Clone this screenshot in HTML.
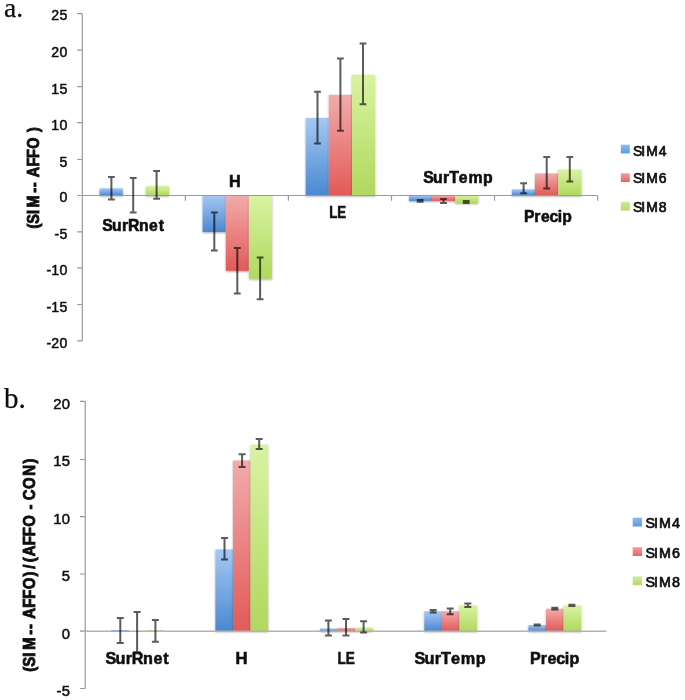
<!DOCTYPE html>
<html lang="en">
<head>
<meta charset="utf-8">
<title>Figure</title>
<style>
html,body{margin:0;padding:0;background:#fff;}
body{width:685px;height:700px;overflow:hidden;}
svg{display:block;filter:blur(0.45px);}
</style>
</head>
<body>
<svg width="685" height="700" viewBox="0 0 685 700">
<defs>
<linearGradient id="gb" x1="0" y1="0" x2="0" y2="1"><stop offset="0" stop-color="#a6c8f3"/><stop offset="1" stop-color="#4a88d2"/></linearGradient>
<linearGradient id="gr" x1="0" y1="0" x2="0" y2="1"><stop offset="0" stop-color="#f2abab"/><stop offset="1" stop-color="#e25a58"/></linearGradient>
<linearGradient id="gg" x1="0" y1="0" x2="0" y2="1"><stop offset="0" stop-color="#d9f3a2"/><stop offset="1" stop-color="#b0d85e"/></linearGradient>
<linearGradient id="lb" x1="0" y1="0" x2="0" y2="1"><stop offset="0" stop-color="#8ebaf0"/><stop offset="1" stop-color="#5e9ade"/></linearGradient>
<linearGradient id="lr" x1="0" y1="0" x2="0" y2="1"><stop offset="0" stop-color="#f29c9c"/><stop offset="1" stop-color="#e66666"/></linearGradient>
<linearGradient id="lg" x1="0" y1="0" x2="0" y2="1"><stop offset="0" stop-color="#cfec9a"/><stop offset="1" stop-color="#b2da68"/></linearGradient>
<filter id="sh" x="-30%" y="-30%" width="160%" height="160%"><feGaussianBlur in="SourceAlpha" stdDeviation="1.2"/><feOffset dx="0" dy="0.8"/><feComponentTransfer><feFuncA type="linear" slope="0.35"/></feComponentTransfer><feMerge><feMergeNode/><feMergeNode in="SourceGraphic"/></feMerge></filter>
</defs>
<rect width="685" height="700" fill="#ffffff"/>

<g id="chartA">
<rect x="99.6" y="188.3" width="23.2" height="7.2" fill="url(#gb)" filter="url(#sh)"/>
<rect x="145.9" y="185.9" width="23.2" height="9.6" fill="url(#gg)" filter="url(#sh)"/>
<rect x="202.6" y="195.5" width="23.2" height="36.5" fill="url(#gb)" filter="url(#sh)"/>
<rect x="225.8" y="195.5" width="23.1" height="75.3" fill="url(#gr)" filter="url(#sh)"/>
<rect x="248.9" y="195.5" width="23.1" height="83.2" fill="url(#gg)" filter="url(#sh)"/>
<rect x="305.7" y="117.9" width="23.1" height="77.6" fill="url(#gb)" filter="url(#sh)"/>
<rect x="328.8" y="94.8" width="23.2" height="100.7" fill="url(#gr)" filter="url(#sh)"/>
<rect x="352.0" y="74.7" width="23.1" height="120.8" fill="url(#gg)" filter="url(#sh)"/>
<rect x="409.0" y="195.5" width="23.1" height="5.4" fill="url(#gb)" filter="url(#sh)"/>
<rect x="432.1" y="195.5" width="23.1" height="5.4" fill="url(#gr)" filter="url(#sh)"/>
<rect x="455.2" y="195.5" width="23.1" height="7.5" fill="url(#gg)" filter="url(#sh)"/>
<rect x="511.9" y="189.3" width="23.1" height="6.2" fill="url(#gb)" filter="url(#sh)"/>
<rect x="535.0" y="173.4" width="23.1" height="22.1" fill="url(#gr)" filter="url(#sh)"/>
<rect x="558.2" y="169.6" width="23.1" height="25.9" fill="url(#gg)" filter="url(#sh)"/>
<path d="M82.3 13.6V340.9" stroke="#9a9a9a" stroke-width="1.2" fill="none"/>
<path d="M77.1 340.9H82.3M77.1 304.5H82.3M77.1 267.8H82.3M77.1 231.9H82.3M77.1 195.5H82.3M77.1 159.5H82.3M77.1 122.7H82.3M77.1 86.7H82.3M77.1 50.2H82.3M77.1 13.6H82.3" stroke="#9a9a9a" stroke-width="1.2" fill="none"/>
<path d="M82.3 195.5H597.6" stroke="#9a9a9a" stroke-width="1.2" fill="none"/>
<path d="M185.4 195.5v5.2M288.4 195.5v5.2M391.5 195.5v5.2M494.5 195.5v5.2M597.6 195.5v5.2" stroke="#9a9a9a" stroke-width="1.2" fill="none"/>
<path d="M111.4 176.9V199.5M108.0 176.9h6.8M108.0 199.5h6.8" stroke="#000" stroke-opacity="0.64" stroke-width="2.0" fill="none"/>
<path d="M133.2 177.9V212.6M129.8 177.9h6.8M129.8 212.6h6.8" stroke="#000" stroke-opacity="0.64" stroke-width="2.0" fill="none"/>
<path d="M156.6 171.1V198.8M153.2 171.1h6.8M153.2 198.8h6.8" stroke="#000" stroke-opacity="0.64" stroke-width="2.0" fill="none"/>
<path d="M214.3 212.5V250.4M210.9 212.5h6.8M210.9 250.4h6.8" stroke="#000" stroke-opacity="0.64" stroke-width="2.0" fill="none"/>
<path d="M237.3 247.9V293.5M233.9 247.9h6.8M233.9 293.5h6.8" stroke="#000" stroke-opacity="0.64" stroke-width="2.0" fill="none"/>
<path d="M260.1 257.4V299.3M256.7 257.4h6.8M256.7 299.3h6.8" stroke="#000" stroke-opacity="0.64" stroke-width="2.0" fill="none"/>
<path d="M317.5 91.8V143.5M314.1 91.8h6.8M314.1 143.5h6.8" stroke="#000" stroke-opacity="0.64" stroke-width="2.0" fill="none"/>
<path d="M340.4 58.6V130.7M337.0 58.6h6.8M337.0 130.7h6.8" stroke="#000" stroke-opacity="0.64" stroke-width="2.0" fill="none"/>
<path d="M363.0 43.6V104.3M359.6 43.6h6.8M359.6 104.3h6.8" stroke="#000" stroke-opacity="0.64" stroke-width="2.0" fill="none"/>
<path d="M523.6 183.2V193.2M520.2 183.2h6.8M520.2 193.2h6.8" stroke="#000" stroke-opacity="0.64" stroke-width="2.0" fill="none"/>
<path d="M546.7 157.0V188.4M543.3 157.0h6.8M543.3 188.4h6.8" stroke="#000" stroke-opacity="0.64" stroke-width="2.0" fill="none"/>
<path d="M569.8 157.0V181.6M566.4 157.0h6.8M566.4 181.6h6.8" stroke="#000" stroke-opacity="0.64" stroke-width="2.0" fill="none"/>
<path d="M420.2 200.1V201.7M416.8 200.1h6.8M416.8 201.7h6.8" stroke="#000" stroke-opacity="0.64" stroke-width="2.0" fill="none"/>
<path d="M443.5 199.0V203.0M440.1 199.0h6.8M440.1 203.0h6.8" stroke="#000" stroke-opacity="0.64" stroke-width="2.0" fill="none"/>
<path d="M466.2 200.9V203.0M462.8 200.9h6.8M462.8 203.0h6.8" stroke="#000" stroke-opacity="0.64" stroke-width="2.0" fill="none"/>
<text transform="translate(67.40 347.90) scale(1.0000 1)" x="-21.02 -16.10 -7.99" y="0" font-family='"Liberation Sans", sans-serif' font-size="14.13" font-weight="normal" fill="#0e0e0e" stroke="#0e0e0e" stroke-width="0.5">-20</text>
<text transform="translate(67.40 311.60) scale(1.0000 1)" x="-21.02 -16.10 -7.99" y="0" font-family='"Liberation Sans", sans-serif' font-size="14.13" font-weight="normal" fill="#0e0e0e" stroke="#0e0e0e" stroke-width="0.5">-15</text>
<text transform="translate(67.40 275.20) scale(1.0000 1)" x="-21.02 -16.10 -7.99" y="0" font-family='"Liberation Sans", sans-serif' font-size="14.13" font-weight="normal" fill="#0e0e0e" stroke="#0e0e0e" stroke-width="0.5">-10</text>
<text transform="translate(67.40 239.00) scale(1.0000 1)" x="-12.91 -7.99" y="0" font-family='"Liberation Sans", sans-serif' font-size="14.13" font-weight="normal" fill="#0e0e0e" stroke="#0e0e0e" stroke-width="0.5">-5</text>
<text transform="translate(67.40 201.90) scale(1.0000 1)" x="-7.99" y="0" font-family='"Liberation Sans", sans-serif' font-size="14.13" font-weight="normal" fill="#0e0e0e" stroke="#0e0e0e" stroke-width="0.5">0</text>
<text transform="translate(67.40 166.60) scale(1.0000 1)" x="-7.99" y="0" font-family='"Liberation Sans", sans-serif' font-size="14.13" font-weight="normal" fill="#0e0e0e" stroke="#0e0e0e" stroke-width="0.5">5</text>
<text transform="translate(67.40 129.50) scale(1.0000 1)" x="-16.10 -7.99" y="0" font-family='"Liberation Sans", sans-serif' font-size="14.13" font-weight="normal" fill="#0e0e0e" stroke="#0e0e0e" stroke-width="0.5">10</text>
<text transform="translate(67.40 94.20) scale(1.0000 1)" x="-16.10 -7.99" y="0" font-family='"Liberation Sans", sans-serif' font-size="14.13" font-weight="normal" fill="#0e0e0e" stroke="#0e0e0e" stroke-width="0.5">15</text>
<text transform="translate(67.40 56.90) scale(1.0000 1)" x="-16.10 -7.99" y="0" font-family='"Liberation Sans", sans-serif' font-size="14.13" font-weight="normal" fill="#0e0e0e" stroke="#0e0e0e" stroke-width="0.5">20</text>
<text transform="translate(67.40 19.70) scale(1.0000 1)" x="-16.10 -7.99" y="0" font-family='"Liberation Sans", sans-serif' font-size="14.13" font-weight="normal" fill="#0e0e0e" stroke="#0e0e0e" stroke-width="0.5">25</text>
<text transform="translate(103.20 231.20) scale(0.9650 1)" x="-0.92 9.22 19.59 25.66 37.12 47.53 57.50" y="0" font-family='"Liberation Sans", sans-serif' font-size="16.34" font-weight="bold" fill="#0e0e0e" stroke="#0e0e0e" stroke-width="0.6">SurRnet</text>
<text transform="translate(229.10 187.00) scale(0.9877 1)" x="0.00" y="0" font-family='"Liberation Sans", sans-serif' font-size="16.34" font-weight="bold" fill="#0e0e0e" stroke="#0e0e0e" stroke-width="0.6">H</text>
<text transform="translate(329.40 218.00) scale(0.8072 1)" x="-0.14 9.84" y="0" font-family='"Liberation Sans", sans-serif' font-size="16.34" font-weight="bold" fill="#0e0e0e" stroke="#0e0e0e" stroke-width="0.6">LE</text>
<text transform="translate(424.20 182.80) scale(0.9700 1)" x="-0.94 9.15 19.47 25.76 35.73 45.56 60.71" y="0" font-family='"Liberation Sans", sans-serif' font-size="16.34" font-weight="bold" fill="#0e0e0e" stroke="#0e0e0e" stroke-width="0.6">SurTemp</text>
<text transform="translate(524.20 221.50) scale(0.9596 1)" x="-0.32 10.50 17.41 26.28 34.96 39.79" y="0" font-family='"Liberation Sans", sans-serif' font-size="16.34" font-weight="bold" fill="#0e0e0e" stroke="#0e0e0e" stroke-width="0.6">Precip</text>
<text transform="translate(38.90 229.10) rotate(-90) scale(0.8800 1)" x="0.56 6.12 17.13 24.63 41.21 47.68 53.75 58.90 71.07 80.77 91.39 105.03 110.26" y="0" font-family='"Liberation Sans", sans-serif' font-size="16.42" font-weight="bold" fill="#0e0e0e" stroke="#0e0e0e" stroke-width="0.9">(SIM-- AFFO )</text>
<rect x="620.8" y="144.7" width="9" height="8.7" fill="url(#lb)"/>
<text transform="translate(634.00 155.50) scale(1.0000 1)" x="-1.03 7.31 12.18 24.87" y="0" font-family='"Liberation Sans", sans-serif' font-size="13.95" font-weight="normal" fill="#0e0e0e" stroke="#0e0e0e" stroke-width="0.7">SIM4</text>
<rect x="620.8" y="173.3" width="9" height="8.7" fill="url(#lr)"/>
<text transform="translate(634.00 183.20) scale(1.0000 1)" x="-1.03 7.31 12.18 24.87" y="0" font-family='"Liberation Sans", sans-serif' font-size="13.95" font-weight="normal" fill="#0e0e0e" stroke="#0e0e0e" stroke-width="0.7">SIM6</text>
<rect x="620.8" y="201.8" width="9" height="8.7" fill="url(#lg)"/>
<text transform="translate(634.00 211.80) scale(1.0000 1)" x="-1.03 7.31 12.18 24.87" y="0" font-family='"Liberation Sans", sans-serif' font-size="13.95" font-weight="normal" fill="#0e0e0e" stroke="#0e0e0e" stroke-width="0.7">SIM8</text>
<text transform="translate(4.00 17.00)" font-family='"Liberation Serif", serif' font-size="27.6" font-weight="normal" text-anchor="start" fill="#0e0e0e" stroke="#0e0e0e" stroke-width="0.25">a.</text>
</g>
<g id="chartB">
<rect x="110.8" y="630.6" width="17.6" height="0.6" fill="url(#gb)" filter="url(#sh)"/>
<rect x="146.0" y="630.6" width="17.6" height="0.6" fill="url(#gg)" filter="url(#sh)"/>
<rect x="215.4" y="549.4" width="17.6" height="81.8" fill="url(#gb)" filter="url(#sh)"/>
<rect x="233.0" y="460.5" width="17.6" height="170.7" fill="url(#gr)" filter="url(#sh)"/>
<rect x="250.6" y="444.7" width="17.6" height="186.5" fill="url(#gg)" filter="url(#sh)"/>
<rect x="320.0" y="628.5" width="17.6" height="2.7" fill="url(#gb)" filter="url(#sh)"/>
<rect x="337.6" y="628.0" width="17.6" height="3.2" fill="url(#gr)" filter="url(#sh)"/>
<rect x="355.2" y="627.5" width="17.6" height="3.7" fill="url(#gg)" filter="url(#sh)"/>
<rect x="424.3" y="611.2" width="17.6" height="20.0" fill="url(#gb)" filter="url(#sh)"/>
<rect x="441.9" y="611.2" width="17.6" height="20.0" fill="url(#gr)" filter="url(#sh)"/>
<rect x="459.5" y="605.2" width="17.6" height="26.0" fill="url(#gg)" filter="url(#sh)"/>
<rect x="528.4" y="625.0" width="17.6" height="6.2" fill="url(#gb)" filter="url(#sh)"/>
<rect x="546.0" y="608.7" width="17.6" height="22.5" fill="url(#gr)" filter="url(#sh)"/>
<rect x="563.6" y="605.4" width="17.6" height="25.8" fill="url(#gg)" filter="url(#sh)"/>
<path d="M85.2 401.3V688.5" stroke="#9a9a9a" stroke-width="1.2" fill="none"/>
<path d="M80.0 688.5H85.2M80.0 631.2H85.2M80.0 574.0H85.2M80.0 516.7H85.2M80.0 459.5H85.2M80.0 401.3H85.2" stroke="#9a9a9a" stroke-width="1.2" fill="none"/>
<path d="M80.0 631.2H606.6" stroke="#b2b2b2" stroke-width="1.6" fill="none"/>
<path d="M111.2 630.9H129.2" stroke="#86a6dc" stroke-width="1.3" fill="none"/>
<path d="M146.4 631.0H163.8" stroke="#b4c88a" stroke-width="1.3" fill="none"/>
<path d="M120.3 618.0V643.0M116.8 618.0h7.0M116.8 643.0h7.0" stroke="#000" stroke-opacity="0.64" stroke-width="2.0" fill="none"/>
<path d="M137.1 612.0V652.2M133.6 612.0h7.0M133.6 652.2h7.0" stroke="#000" stroke-opacity="0.64" stroke-width="2.0" fill="none"/>
<path d="M155.4 620.0V641.8M151.9 620.0h7.0M151.9 641.8h7.0" stroke="#000" stroke-opacity="0.64" stroke-width="2.0" fill="none"/>
<path d="M224.5 537.9V559.5M221.0 537.9h7.0M221.0 559.5h7.0" stroke="#000" stroke-opacity="0.64" stroke-width="2.0" fill="none"/>
<path d="M242.1 454.2V467.0M238.6 454.2h7.0M238.6 467.0h7.0" stroke="#000" stroke-opacity="0.64" stroke-width="2.0" fill="none"/>
<path d="M259.2 438.9V449.0M255.7 438.9h7.0M255.7 449.0h7.0" stroke="#000" stroke-opacity="0.64" stroke-width="2.0" fill="none"/>
<path d="M328.4 620.5V635.5M324.9 620.5h7.0M324.9 635.5h7.0" stroke="#000" stroke-opacity="0.64" stroke-width="2.0" fill="none"/>
<path d="M346.0 619.0V635.5M342.5 619.0h7.0M342.5 635.5h7.0" stroke="#000" stroke-opacity="0.64" stroke-width="2.0" fill="none"/>
<path d="M363.6 621.2V632.5M360.1 621.2h7.0M360.1 632.5h7.0" stroke="#000" stroke-opacity="0.64" stroke-width="2.0" fill="none"/>
<path d="M433.2 610.0V612.4M429.7 610.0h7.0M429.7 612.4h7.0" stroke="#000" stroke-opacity="0.64" stroke-width="2.0" fill="none"/>
<path d="M450.2 608.4V614.2M446.7 608.4h7.0M446.7 614.2h7.0" stroke="#000" stroke-opacity="0.64" stroke-width="2.0" fill="none"/>
<path d="M467.8 603.6V606.9M464.3 603.6h7.0M464.3 606.9h7.0" stroke="#000" stroke-opacity="0.64" stroke-width="2.0" fill="none"/>
<path d="M537.2 624.4V625.6M533.7 624.4h7.0M533.7 625.6h7.0" stroke="#000" stroke-opacity="0.64" stroke-width="2.0" fill="none"/>
<path d="M554.8 607.7V609.5M551.3 607.7h7.0M551.3 609.5h7.0" stroke="#000" stroke-opacity="0.64" stroke-width="2.0" fill="none"/>
<path d="M571.9 604.8V606.0M568.4 604.8h7.0M568.4 606.0h7.0" stroke="#000" stroke-opacity="0.64" stroke-width="2.0" fill="none"/>
<text transform="translate(70.10 695.60) scale(1.0000 1)" x="-13.56 -8.38" y="0" font-family='"Liberation Sans", sans-serif' font-size="14.83" font-weight="normal" fill="#0e0e0e" stroke="#0e0e0e" stroke-width="0.5">-5</text>
<text transform="translate(70.10 638.60) scale(1.0000 1)" x="-8.38" y="0" font-family='"Liberation Sans", sans-serif' font-size="14.83" font-weight="normal" fill="#0e0e0e" stroke="#0e0e0e" stroke-width="0.5">0</text>
<text transform="translate(70.10 580.90) scale(1.0000 1)" x="-8.38" y="0" font-family='"Liberation Sans", sans-serif' font-size="14.83" font-weight="normal" fill="#0e0e0e" stroke="#0e0e0e" stroke-width="0.5">5</text>
<text transform="translate(70.10 524.10) scale(1.0000 1)" x="-16.90 -8.38" y="0" font-family='"Liberation Sans", sans-serif' font-size="14.83" font-weight="normal" fill="#0e0e0e" stroke="#0e0e0e" stroke-width="0.5">10</text>
<text transform="translate(70.10 466.40) scale(1.0000 1)" x="-16.90 -8.38" y="0" font-family='"Liberation Sans", sans-serif' font-size="14.83" font-weight="normal" fill="#0e0e0e" stroke="#0e0e0e" stroke-width="0.5">15</text>
<text transform="translate(70.10 408.50) scale(1.0000 1)" x="-16.90 -8.38" y="0" font-family='"Liberation Sans", sans-serif' font-size="14.83" font-weight="normal" fill="#0e0e0e" stroke="#0e0e0e" stroke-width="0.5">20</text>
<text transform="translate(106.30 663.70) scale(0.9416 1)" x="-0.96 9.71 20.62 27.01 39.07 50.03 60.53" y="0" font-family='"Liberation Sans", sans-serif' font-size="17.2" font-weight="bold" fill="#0e0e0e" stroke="#0e0e0e" stroke-width="0.6">SurRnet</text>
<text transform="translate(235.50 663.70) scale(0.9637 1)" x="0.00" y="0" font-family='"Liberation Sans", sans-serif' font-size="17.2" font-weight="bold" fill="#0e0e0e" stroke="#0e0e0e" stroke-width="0.6">H</text>
<text transform="translate(337.50 663.70) scale(0.7875 1)" x="-0.15 10.36" y="0" font-family='"Liberation Sans", sans-serif' font-size="17.2" font-weight="bold" fill="#0e0e0e" stroke="#0e0e0e" stroke-width="0.6">LE</text>
<text transform="translate(415.40 663.70) scale(0.9464 1)" x="-0.99 9.63 20.49 27.12 37.61 47.96 63.90" y="0" font-family='"Liberation Sans", sans-serif' font-size="17.2" font-weight="bold" fill="#0e0e0e" stroke="#0e0e0e" stroke-width="0.6">SurTemp</text>
<text transform="translate(530.30 663.70) scale(0.9362 1)" x="-0.34 11.05 18.32 27.67 36.80 41.88" y="0" font-family='"Liberation Sans", sans-serif' font-size="17.2" font-weight="bold" fill="#0e0e0e" stroke="#0e0e0e" stroke-width="0.6">Precip</text>
<text transform="translate(34.90 672.20) rotate(-90) scale(0.8800 1)" x="0.58 6.31 17.69 25.43 42.54 49.21 55.49 60.80 73.36 83.37 94.34 108.89 117.45 125.08 131.79 144.35 154.37 165.34 179.41 184.75 191.02 195.49 208.16 223.20 237.09" y="0" font-family='"Liberation Sans", sans-serif' font-size="16.95" font-weight="bold" fill="#0e0e0e" stroke="#0e0e0e" stroke-width="0.9">(SIM-- AFFO)/(AFFO - CON)</text>
<rect x="632.7" y="517.7" width="9.3" height="8.8" fill="url(#lb)"/>
<text transform="translate(646.60 528.40) scale(1.0000 1)" x="-1.05 7.49 12.49 25.50" y="0" font-family='"Liberation Sans", sans-serif' font-size="14.3" font-weight="normal" fill="#0e0e0e" stroke="#0e0e0e" stroke-width="0.7">SIM4</text>
<rect x="632.7" y="547.2" width="9.3" height="8.8" fill="url(#lr)"/>
<text transform="translate(646.60 558.10) scale(1.0000 1)" x="-1.05 7.49 12.49 25.50" y="0" font-family='"Liberation Sans", sans-serif' font-size="14.3" font-weight="normal" fill="#0e0e0e" stroke="#0e0e0e" stroke-width="0.7">SIM6</text>
<rect x="632.7" y="576.4" width="9.3" height="8.8" fill="url(#lg)"/>
<text transform="translate(646.60 586.80) scale(1.0000 1)" x="-1.05 7.49 12.49 25.50" y="0" font-family='"Liberation Sans", sans-serif' font-size="14.3" font-weight="normal" fill="#0e0e0e" stroke="#0e0e0e" stroke-width="0.7">SIM8</text>
<text transform="translate(4.00 407.60)" font-family='"Liberation Serif", serif' font-size="29" font-weight="normal" text-anchor="start" fill="#0e0e0e" stroke="#0e0e0e" stroke-width="0.25">b.</text>
</g>
</svg>
</body>
</html>
